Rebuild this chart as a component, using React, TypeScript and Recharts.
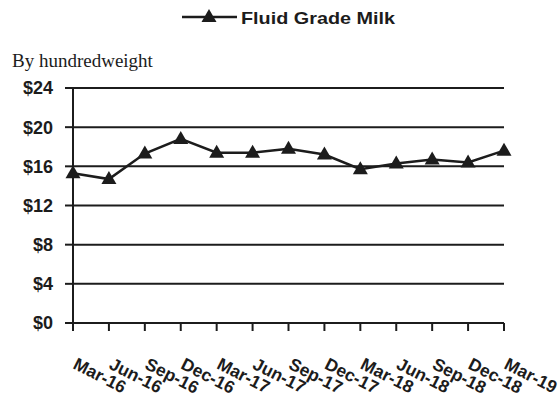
import { CartesianGrid, Line, LineChart, XAxis, YAxis } from 'recharts'

/* Fluid grade milk price, quarterly, $ per hundredweight. */

const months = ['Mar-16', 'Jun-16', 'Sep-16', 'Dec-16', 'Mar-17', 'Jun-17', 'Sep-17',
  'Dec-17', 'Mar-18', 'Jun-18', 'Sep-18', 'Dec-18', 'Mar-19']
const fluidGrade = [15.3, 14.7, 17.3, 18.8, 17.4, 17.4, 17.8, 17.2, 15.7, 16.3, 16.7, 16.4, 17.6]
const yTicks = [0, 4, 8, 12, 16, 20, 24]

const data = months.map((month, i) => ({ month, fluid: fluidGrade[i] }))

const INK = '#1c1c1c'
const SANS = '"Liberation Sans", Arial, sans-serif'

function Triangle({ cx, cy }: { cx?: number; cy?: number }) {
  if (cx == null || cy == null) return null
  return <polygon points={`${cx},${cy - 8} ${cx + 7.5},${cy + 5} ${cx - 7.5},${cy + 5}`} fill={INK} />
}

function MonthTick({ x, y, payload }: { x?: number; y?: number; payload?: { value: string } }) {
  const bx = (x ?? 0) - 1
  const by = (y ?? 0) + 35
  return (
    <text x={bx} y={by} transform={`rotate(27 ${bx} ${by})`} textAnchor="start"
          fill={INK} fontFamily={SANS} fontWeight="bold" fontSize={17.5}>
      {payload?.value}
    </text>
  )
}

export default function App() {
  return (
    <div style={{ position: 'absolute', left: 0, top: 0, width: 560, height: 400, background: '#fff' }}>
      <svg width={560} height={80} style={{ position: 'absolute', left: 0, top: 0 }}>
        <line x1={182} y1={17} x2={237} y2={17} stroke={INK} strokeWidth={2.5} />
        <polygon points="209,9 216.5,22 201.5,22" fill={INK} />
        <text x={241} y={24} fill={INK} fontFamily={SANS} fontWeight="bold" fontSize={17}
              textLength={154} lengthAdjust="spacingAndGlyphs">
          Fluid Grade Milk
        </text>
        <text x={12} y={67} fill={INK} fontFamily='"Liberation Serif", "Times New Roman", serif'
              fontSize={19}>
          By hundredweight
        </text>
      </svg>
      <LineChart width={560} height={400} data={data}
                 margin={{ top: 88, right: 56, bottom: 0, left: 13 }}>
        <CartesianGrid vertical={false} stroke={INK} strokeWidth={2} />
        <XAxis dataKey="month" interval={0} height={77} padding={{ left: 0, right: 0 }}
               scale="point" axisLine={{ stroke: INK, strokeWidth: 2 }}
               tickLine={{ stroke: INK, strokeWidth: 2 }} tickSize={8} tick={<MonthTick />} />
        <YAxis width={60} domain={[0, 24]} ticks={yTicks} interval={0}
               axisLine={{ stroke: INK, strokeWidth: 2 }} tickLine={{ stroke: INK, strokeWidth: 2 }}
               tickSize={8} tickMargin={12} tickFormatter={(v: number) => `$${v}`}
               tick={{ fill: INK, fontFamily: SANS, fontWeight: 'bold', fontSize: 18 }} />
        <Line type="linear" dataKey="fluid" stroke={INK} strokeWidth={2.5}
              dot={<Triangle />} activeDot={false} isAnimationActive={false} />
      </LineChart>
    </div>
  )
}
